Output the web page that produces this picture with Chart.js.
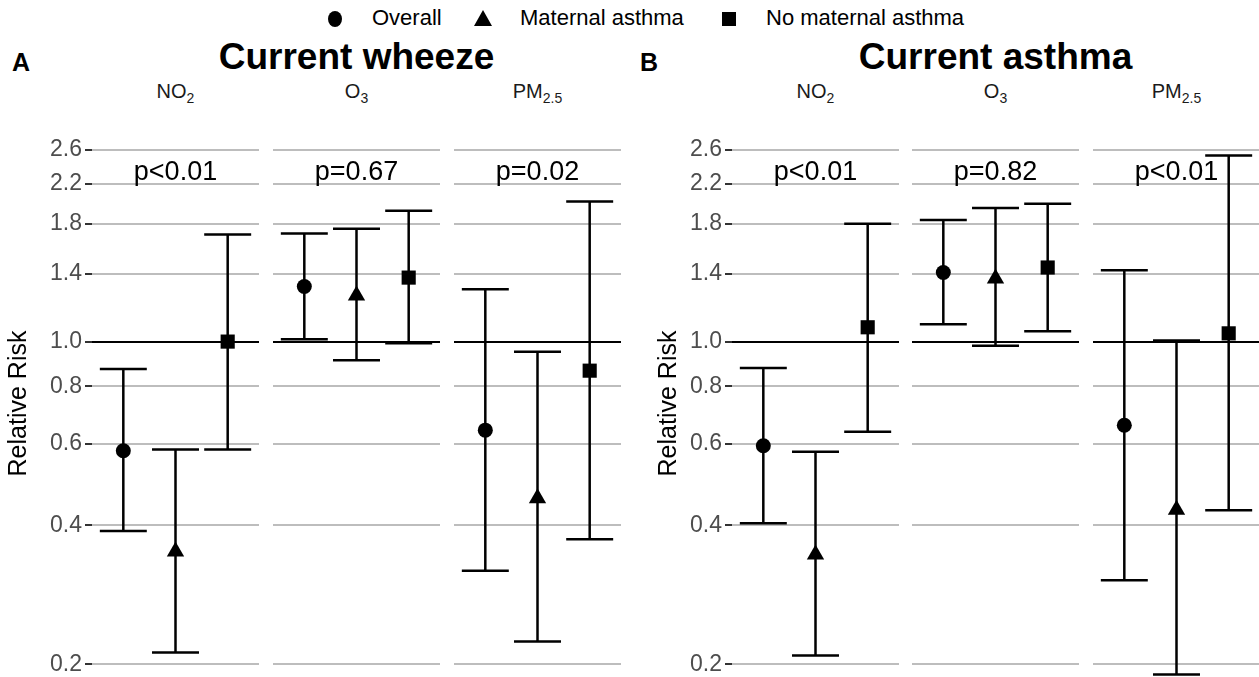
<!DOCTYPE html>
<html>
<head>
<meta charset="utf-8">
<script src="https://cdn.jsdelivr.net/npm/chart.js@4/dist/chart.umd.min.js"></script>
<style>
  body { margin: 0; width: 1259px; height: 677px; position: relative; overflow: hidden; background: #fff;
         font-family: 'Liberation Sans', Arial, sans-serif; color: #000; }
  .abs { position: absolute; white-space: nowrap; }
  .tag { font-weight: bold; font-size: 25px; }
  .title { font-weight: bold; font-size: 37px; text-align: center; line-height: 40px; }
  .strip { font-size: 20px; color: #1a1a1a; text-align: center; line-height: 22px; }
  .strip sub { font-size: 14px; vertical-align: -5px; }
  .legend { font-size: 22px; color: #000; line-height: 26px; top: 5px; }
  .sym { position: absolute; background: #000; }
</style>
</head>
<body>

<div class="sym" style="left:328px;top:11px;width:14px;height:16px;border-radius:50%"></div>
<div class="abs legend" style="left:372px">Overall</div>
<div class="sym" style="left:474px;top:10px;width:0;height:0;background:none;border-left:9px solid transparent;border-right:9px solid transparent;border-bottom:16px solid #000"></div>
<div class="abs legend" style="left:520px">Maternal asthma</div>
<div class="sym" style="left:722px;top:12px;width:14px;height:14px"></div>
<div class="abs legend" style="left:766px">No maternal asthma</div>

<div class="abs tag" style="left:12px;top:48px">A</div>
<div class="abs title" style="left:92px;width:529px;top:37px">Current wheeze</div>
<div class="abs tag" style="left:640px;top:48px">B</div>
<div class="abs title" style="left:732px;width:527px;top:37px">Current asthma</div>

<div id="strips"></div>
<div id="facets"></div>

<script>
// ---- data ----
const pollutants = ['NO<sub>2</sub>', 'O<sub>3</sub>', 'PM<sub>2.5</sub>'];
const groups = ['Overall', 'Maternal asthma', 'No maternal asthma'];
const groupX = [1, 2, 3];
const shapes = ['circle', 'triangle', 'rect'];
const yTicks = [0.2, 0.4, 0.6, 0.8, 1.0, 1.4, 1.8, 2.2, 2.6];

// Current wheeze: one row per pollutant -> [overall, maternal, no maternal]
const wheezeRR   = [[0.58, 0.351, 1.0], [1.316, 1.258, 1.376], [0.643, 0.458, 0.865]];
const wheezeLow  = [[0.389, 0.212, 0.584], [1.012, 0.911, 0.992], [0.319, 0.224, 0.373]];
const wheezeHigh = [[0.872, 0.584, 1.706], [1.715, 1.755, 1.92], [1.299, 0.951, 2.01]];
const wheezeP = ['p<0.01', 'p=0.67', 'p=0.02'];

// Current asthma
const asthmaRR   = [[0.595, 0.346, 1.074], [1.411, 1.37, 1.447], [0.659, 0.432, 1.042]];
const asthmaLow  = [[0.404, 0.209, 0.638], [1.09, 0.979, 1.053], [0.304, 0.19, 0.431]];
const asthmaHigh = [[0.877, 0.577, 1.80], [1.835, 1.946, 1.99], [1.428, 1.005, 2.53]];
const asthmaP = ['p<0.01', 'p=0.82', 'p<0.01'];

// ---- layout ----
const Y_MIN = 0.1877, Y_MAX = 2.873;
const P_LABEL_Y = 2.24;
const CAP = 0.9;          // errorbar cap width in x units
const TOP = 130, H = 547;
const FONT = "'Liberation Sans', Arial, sans-serif";

const panels = [
  { rr: wheezeRR, low: wheezeLow, high: wheezeHigh, p: wheezeP, axisLeft: 0, axisW: 92, areas: [92, 273, 454] },
  { rr: asthmaRR, low: asthmaLow, high: asthmaHigh, p: asthmaP, axisLeft: 650, axisW: 82, areas: [732, 912, 1093] }
];
const FACET_W = 167;

// errorbars + p value label, drawn with the chart's own scales
const errorBars = {
  id: 'errorBars',
  beforeDatasetsDraw(chart) {
    const o = chart.options.plugins.errorBars;
    const { ctx, scales: { x, y } } = chart;
    ctx.save();
    ctx.strokeStyle = '#000';
    ctx.lineWidth = 2.5;
    o.low.forEach((lo, i) => {
      const px = x.getPixelForValue(groupX[i]);
      const x0 = x.getPixelForValue(groupX[i] - CAP / 2);
      const x1 = x.getPixelForValue(groupX[i] + CAP / 2);
      const yLo = y.getPixelForValue(lo);
      const yHi = y.getPixelForValue(o.high[i]);
      ctx.beginPath();
      ctx.moveTo(px, yLo); ctx.lineTo(px, yHi);
      ctx.moveTo(x0, yLo); ctx.lineTo(x1, yLo);
      ctx.moveTo(x0, yHi); ctx.lineTo(x1, yHi);
      ctx.stroke();
    });
    ctx.fillStyle = '#000';
    ctx.font = '27px ' + FONT;
    ctx.textAlign = 'center';
    ctx.textBaseline = 'alphabetic';
    ctx.fillText(o.label, x.getPixelForValue(2), y.getPixelForValue(P_LABEL_Y));
    ctx.restore();
  }
};

const stripBox = document.getElementById('strips');
const facetBox = document.getElementById('facets');

panels.forEach(panel => {
  pollutants.forEach((pol, k) => {
    const first = k === 0;
    const areaLeft = panel.areas[k];

    const s = document.createElement('div');
    s.className = 'abs strip';
    s.style.left = areaLeft + 'px';
    s.style.width = FACET_W + 'px';
    s.style.top = '80px';
    s.innerHTML = pol;
    stripBox.appendChild(s);

    const left = first ? panel.axisLeft : areaLeft;
    const width = first ? areaLeft + FACET_W - panel.axisLeft : FACET_W;
    const wrap = document.createElement('div');
    wrap.className = 'abs';
    wrap.style.left = left + 'px';
    wrap.style.top = TOP + 'px';
    const cv = document.createElement('canvas');
    cv.width = width; cv.height = H;
    wrap.appendChild(cv);
    facetBox.appendChild(wrap);

    new Chart(cv, {
      type: 'scatter',
      data: {
        datasets: groups.map((g, i) => ({
          label: g,
          data: [{ x: groupX[i], y: panel.rr[k][i] }],
          pointStyle: shapes[i],
          pointRadius: [7.5, 10, 10][i],
          backgroundColor: '#000',
          borderColor: '#000',
          borderWidth: 0,
          clip: false
        }))
      },
      options: {
        responsive: false,
        animation: false,
        layout: { padding: 0, autoPadding: false },
        plugins: {
          legend: { display: false },
          tooltip: { enabled: false },
          errorBars: { low: panel.low[k], high: panel.high[k], label: panel.p[k] }
        },
        scales: {
          x: { type: 'linear', min: 0.4, max: 3.6, display: false },
          y: {
            type: 'logarithmic',
            min: Y_MIN,
            max: Y_MAX,
            afterBuildTicks: sc => { sc.ticks = yTicks.map(v => ({ value: v })); },
            afterFit: sc => {
              sc.width = first ? panel.axisW : 0;
              sc.paddingTop = 0; sc.paddingBottom = 0;
            },
            border: { display: false },
            grid: {
              color: c => (c.tick && c.tick.value === 1 ? '#000' : '#bdbdbd'),
              lineWidth: 2,
              drawTicks: first,
              tickLength: 7,
              tickColor: '#333',
              tickWidth: 2
            },
            ticks: {
              display: first,
              padding: 3,
              color: '#4d4d4d',
              font: { family: FONT, size: 23 },
              callback: v => Number(v).toFixed(1)
            },
            title: {
              display: first,
              text: 'Relative Risk',
              color: '#000',
              font: { family: FONT, size: 25 },
              padding: { top: 4, bottom: 0 }
            }
          }
        }
      },
      plugins: [errorBars]
    });
  });
});
</script>
</body>
</html>
